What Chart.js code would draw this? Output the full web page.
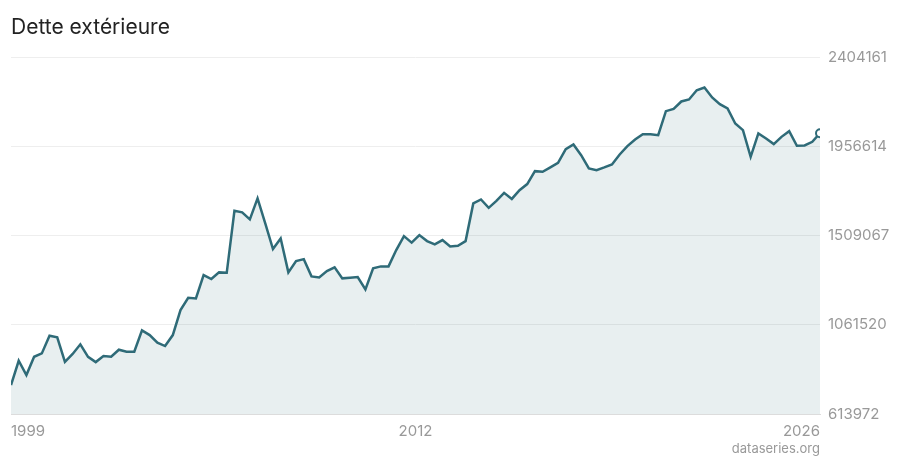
<!DOCTYPE html>
<html>
<head>
    <meta charset="utf-8">
    <title>Dette extérieure</title>
    <script src="https://cdn.jsdelivr.net/npm/chart.js"></script>
    <style>
        html, body { margin: 0; padding: 0; background: #fff; }
        #wrap { width: 900px; height: 460px; }
    </style>
</head>
<body>
<div id="wrap"><canvas id="myChart" width="900" height="460"></canvas></div>
<script>
    // quarterly values, 1999 onwards
    var values = [
        759000, 881000, 809500, 901000, 918000, 1006500, 998500, 876000, 915000, 963500,
        901000, 874500, 905000, 901000, 936500, 926500, 926500, 1033500, 1010000, 971500,
        955000, 1010000, 1135500, 1197000, 1194000, 1311000, 1291000, 1324500, 1322500, 1633500,
        1625500, 1590500, 1695500, 1570000, 1441500, 1495000, 1324500, 1381000, 1391000, 1304500,
        1299500, 1331000, 1349500, 1294500, 1297500, 1301000, 1239500, 1344500, 1354500, 1354500,
        1436500, 1506500, 1474000, 1511500, 1481500, 1465000, 1486500, 1455000, 1458000, 1481500,
        1670500, 1690500, 1648500, 1683500, 1723500, 1693000, 1737000, 1767500, 1832500, 1829000,
        1851000, 1874000, 1943000, 1966500, 1912500, 1846000, 1837500, 1851000, 1866000, 1916000,
        1958000, 1991500, 2018000, 2018000, 2013000, 2133500, 2145000, 2182000, 2192000, 2238500,
        2252000, 2202000, 2168500, 2147000, 2071500, 2038000, 1904000, 2021500, 1996500, 1968000,
        2004500, 2033000, 1959500, 1961500, 1979500, 2023000
    ];
    var xTickLabels = ['1999', '2012', '2026'];
    var xTickPos = [0, (values.length - 1) / 2, values.length - 1];
    var yTickValues = [613972, 1061520, 1509067, 1956614, 2404161];
    var yTickLabels = ['613972', '1061520', '1509067', '1956614', '2404161'];

    var lineColor = '#2f6b78';
    var lastIndex = values.length - 1;

    var creditPlugin = {
        id: 'credit',
        afterDraw(chart) {
            var c = chart.ctx;
            c.save();
            c.font = '13px Inter, "DejaVu Sans", sans-serif';
            c.fillStyle = '#999';
            c.textAlign = 'right';
            c.textBaseline = 'middle';
            c.fillText('dataseries.org', chart.chartArea.right, 449);
            c.restore();
        }
    };

    var ctx = document.getElementById('myChart').getContext('2d');
    var myChart = new Chart(ctx, {
        type: 'line',
        data: {
            datasets: [{
                data: values.map(function (v, i) { return { x: i, y: v }; }),
                borderColor: lineColor,
                borderWidth: 2.5,
                backgroundColor: 'rgba(47, 107, 120, 0.11)',
                fill: 'start',
                tension: 0,
                pointRadius: function (c) { return c.dataIndex === lastIndex ? 4 : 0; },
                pointBackgroundColor: '#fff',
                pointBorderColor: lineColor,
                pointBorderWidth: 2,
                pointHoverRadius: 0
            }]
        },
        options: {
            responsive: false,
            animation: false,
            layout: { padding: { left: 11, right: 0, top: 0, bottom: 0 } },
            plugins: {
                legend: { display: false },
                tooltip: { enabled: false },
                title: {
                    display: true,
                    text: 'Dette extérieure',
                    align: 'start',
                    color: '#222',
                    font: { family: 'Inter, "DejaVu Sans", sans-serif', size: 21, weight: 'normal' },
                    padding: { top: 15, bottom: 17 }
                }
            },
            scales: {
                x: {
                    type: 'linear',
                    min: 0,
                    max: lastIndex,
                    grid: { display: false, drawTicks: false },
                    border: { display: true, color: '#dcdcdc', width: 1 },
                    afterBuildTicks: function (scale) {
                        scale.ticks = xTickPos.map(function (v) { return { value: v }; });
                    },
                    afterFit: function (scale) { scale.height = 46; },
                    ticks: {
                        autoSkip: false,
                        maxRotation: 0,
                        align: 'inner',
                        padding: 8,
                        color: '#999',
                        font: { family: 'Inter, "DejaVu Sans", sans-serif', size: 15 },
                        callback: function (value, index) { return xTickLabels[index]; }
                    }
                },
                y: {
                    position: 'right',
                    min: yTickValues[0],
                    max: yTickValues[yTickValues.length - 1],
                    grid: { color: '#eeeeee', drawTicks: false },
                    border: { display: false },
                    afterBuildTicks: function (scale) {
                        scale.ticks = yTickValues.map(function (v) { return { value: v }; });
                    },
                    afterFit: function (scale) { scale.width = 80; },
                    ticks: {
                        padding: 8,
                        color: '#999',
                        font: { family: 'Inter, "DejaVu Sans", sans-serif', size: 15 },
                        callback: function (value, index) { return yTickLabels[index]; }
                    }
                }
            }
        },
        plugins: [creditPlugin]
    });
</script>
</body>
</html>
